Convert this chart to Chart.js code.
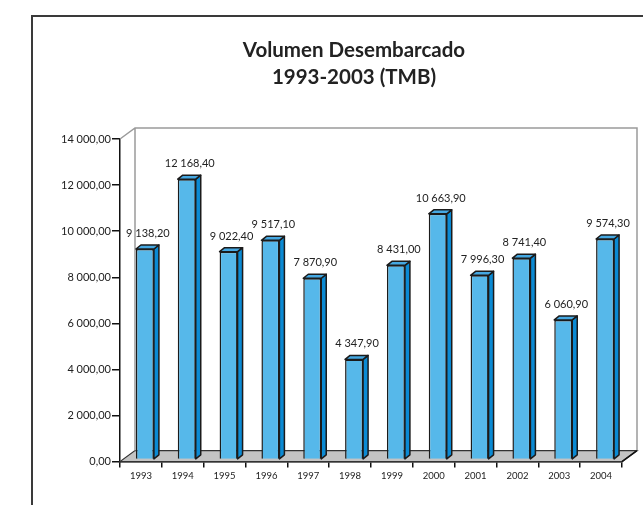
<!DOCTYPE html>
<html>
<head>
<meta charset="utf-8">
<script src="https://cdn.jsdelivr.net/npm/chart.js@4/dist/chart.umd.min.js"></script>
<style>
  body { margin: 0; background: #fff; }
  #marco { position: absolute; left: 31px; top: 15px; right: -2px; bottom: -2px;
           border-left: 2px solid #3a3a3a; border-top: 2px solid #3a3a3a; }
  #titulo { position: absolute; left: 65px; width: 578px; top: 36px; text-align: center;
            font: bold 20.5px/27px Lato, "DejaVu Sans", sans-serif; color: #222; }
  #graficoVolumen { position: absolute; left: 0; top: 0; }
</style>
</head>
<body>
<div id="marco"></div>
<canvas id="graficoVolumen" width="643" height="505"></canvas>
<div id="titulo">Volumen Desembarcado<br>1993-2003 (TMB)</div>
<script>
const anios = ['1993', '1994', '1995', '1996', '1997', '1998', '1999', '2000', '2001', '2002', '2003', '2004'];
const volumen = [9138.2, 12168.4, 9022.4, 9517.1, 7870.9, 4347.9, 8431.0, 10663.9, 7996.3, 8741.4, 6060.9, 9574.3];
const ejeMax = 14000;
const ejePaso = 2000;

const fuente = 'Lato, "DejaVu Sans", sans-serif';

// 14000 -> "14 000,00"
function formatear(v) {
  const partes = v.toFixed(2).split('.');
  const entero = partes[0].replace(/\B(?=(\d{3})+(?!\d))/g, ' ');
  return entero + ',' + partes[1];
}

// profundidad de la caja 3D y de las barras
const fondoX = 15, fondoY = 11;
const barraX = 5, barraY = 4;
const despX = 4, despY = -2;

const caja3D = {
  id: 'caja3D',
  beforeDatasetsDraw(chart) {
    const { ctx, chartArea: a } = chart;
    ctx.save();
    // piso
    ctx.beginPath();
    ctx.moveTo(a.left, a.bottom);
    ctx.lineTo(a.right, a.bottom);
    ctx.lineTo(a.right + fondoX, a.bottom - fondoY);
    ctx.lineTo(a.left + fondoX, a.bottom - fondoY);
    ctx.closePath();
    ctx.fillStyle = '#c3c3c3';
    ctx.fill();
    ctx.lineWidth = 1.2;
    ctx.strokeStyle = '#333';
    ctx.stroke();
    // paredes
    ctx.beginPath();
    ctx.moveTo(a.left, a.top);
    ctx.lineTo(a.left + fondoX, a.top - fondoY);
    ctx.lineTo(a.right + fondoX, a.top - fondoY);
    ctx.lineTo(a.right + fondoX, a.bottom - fondoY);
    ctx.moveTo(a.left + fondoX, a.top - fondoY);
    ctx.lineTo(a.left + fondoX, a.bottom - fondoY);
    ctx.strokeStyle = '#9a9a9a';
    ctx.lineWidth = 1.5;
    ctx.stroke();
    ctx.restore();
    ctx.save();
    ctx.translate(despX, despY);
  },
  afterDatasetsDraw(chart) {
    const { ctx } = chart;
    const meta = chart.getDatasetMeta(0);
    meta.data.forEach((bar, i) => {
      const izq = bar.x - bar.width / 2;
      const der = bar.x + bar.width / 2;
      ctx.lineWidth = 1.5;
      ctx.strokeStyle = '#1b1b1b';
      ctx.lineJoin = 'round';
      // lado
      ctx.beginPath();
      ctx.moveTo(der, bar.y);
      ctx.lineTo(der + barraX, bar.y - barraY);
      ctx.lineTo(der + barraX, bar.base - barraY);
      ctx.lineTo(der, bar.base);
      ctx.closePath();
      ctx.fillStyle = '#0b8ad3';
      ctx.fill();
      ctx.stroke();
      // tapa
      ctx.beginPath();
      ctx.moveTo(izq, bar.y);
      ctx.lineTo(izq + barraX, bar.y - barraY);
      ctx.lineTo(der + barraX, bar.y - barraY);
      ctx.lineTo(der, bar.y);
      ctx.closePath();
      ctx.fillStyle = '#45a8e2';
      ctx.fill();
      ctx.stroke();
      // valor
      ctx.fillStyle = '#222';
      ctx.font = '11px ' + fuente;
      ctx.textAlign = 'center';
      ctx.textBaseline = 'bottom';
      ctx.fillText(formatear(volumen[i]), bar.x + 3, bar.y - barraY - 6);
    });
    ctx.restore();
    // esquina derecha del eje X
    const a = chart.chartArea;
    ctx.save();
    ctx.beginPath();
    ctx.moveTo(a.right, a.bottom);
    ctx.lineTo(a.right + fondoX, a.bottom - fondoY);
    ctx.strokeStyle = '#111';
    ctx.lineWidth = 1.5;
    ctx.stroke();
    ctx.restore();
  }
};

new Chart(document.getElementById('graficoVolumen'), {
  type: 'bar',
  data: {
    labels: anios,
    datasets: [{
      label: 'Volumen Desembarcado (TMB)',
      data: volumen,
      backgroundColor: '#56b8ea',
      borderColor: '#1b1b1b',
      borderWidth: 1.5,
      categoryPercentage: 1,
      barPercentage: 0.43
    }]
  },
  options: {
    responsive: false,
    animation: false,
    layout: { padding: { left: 40, right: 21, top: 139, bottom: 20 } },
    plugins: {
      legend: { display: false },
      tooltip: { enabled: false },
      title: { display: false }
    },
    scales: {
      x: {
        grid: { drawOnChartArea: false, color: '#111', tickLength: 6, lineWidth: 1.5 },
        border: { color: '#111', width: 1.5 },
        ticks: { color: '#222', font: { family: fuente, size: 9.5 }, padding: 3, maxRotation: 0 }
      },
      y: {
        min: 0,
        max: ejeMax,
        afterFit(scale) { scale.width = 80; },
        grid: { drawOnChartArea: false, color: '#111', tickLength: 8, lineWidth: 1.5 },
        border: { color: '#111', width: 1.5 },
        ticks: {
          stepSize: ejePaso,
          color: '#222',
          padding: 1,
          font: { family: fuente, size: 11 },
          callback: v => formatear(v)
        }
      }
    }
  },
  plugins: [caja3D]
});
</script>
</body>
</html>
